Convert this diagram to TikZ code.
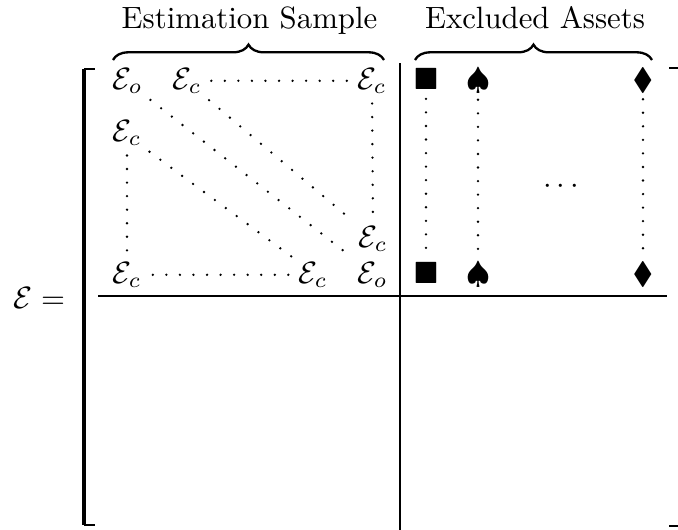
\documentclass[tikz,border=0pt]{standalone}
\usepackage{amssymb}
\usetikzlibrary{decorations.pathreplacing}
\tikzset{
  ent/.style={inner sep=0pt, anchor=base west},
  sym/.style={inner sep=0pt, anchor=base},
  dotline/.style={line width=0.85pt, line cap=round, dash pattern=on 0pt off 4.4pt},
  rule/.style={line width=0.38pt},
  bracefig/.style={line width=0.75pt, decorate, decoration={brace, amplitude=5pt}},
}
\begin{document}
\begin{tikzpicture}[x=0.3247pt, y=-0.3247pt]
\useasboundingbox (0,0) rectangle (678,529);
% titles
\node[sym] (t1) at (249.5,28) {Estimation Sample};
\node[sym] (t2) at (535,28) {Excluded Assets};
\coordinate (b1l) at (113,60);
\coordinate (b1r) at (384,60);
\coordinate (b2l) at (415,60);
\coordinate (b2r) at (652,60);
\draw[bracefig] (b1l) -- (b1r);
\draw[bracefig] (b2l) -- (b2r);
% lhs
\node[ent] (lhs) at (13,308) {$\mathcal{E} =$};
% left bracket
\coordinate (lbt) at (84,69);
\coordinate (lbb) at (84,525);
\coordinate (lbtr) at (95,69);
\coordinate (lbbr) at (95,525);
\draw[line width=1.15pt] (lbt) -- (lbb);
\draw[line width=0.45pt] (lbt) -- (lbtr);
\draw[line width=0.45pt] (lbb) -- (lbbr);
% right bracket ticks
\coordinate (rbt) at (669,68);
\coordinate (rbtr) at (679,68);
\coordinate (rbb) at (669,526);
\coordinate (rbbr) at (679,526);
\draw[line width=0.45pt] (rbt) -- (rbtr);
\draw[line width=0.45pt] (rbb) -- (rbbr);
% separators
\coordinate (vt) at (400,63);
\coordinate (vb) at (400,530);
\coordinate (hl) at (98,296);
\coordinate (hr) at (667,296);
\draw[rule] (vt) -- (vb);
\draw[rule] (hl) -- (hr);
% estimation block
\node[ent] (c11) at (112,89) {$\mathcal{E}_o$};
\node[ent] (c12) at (172,89) {$\mathcal{E}_c$};
\node[ent] (c1n) at (357,89) {$\mathcal{E}_c$};
\node[ent] (c21) at (112,141) {$\mathcal{E}_c$};
\node[ent] (cmn) at (358,247) {$\mathcal{E}_c$};
\node[ent] (cn1) at (112,283) {$\mathcal{E}_c$};
\node[ent] (cn2) at (298,283) {$\mathcal{E}_c$};
\node[ent] (cnn) at (357,283) {$\mathcal{E}_o$};
\draw[dotline, shorten <=3pt, shorten >=1pt] (c12.east) -- (c1n.west);
\draw[dotline, shorten <=3pt, shorten >=3.5pt] (c1n.south) -- (cmn.north);
\draw[dotline, shorten <=3pt, shorten >=3pt] (c21.south) -- (cn1.north);
\draw[dotline, shorten <=3.5pt, shorten >=2.5pt] (cn1.east) -- (cn2.west);
\draw[dotline, shorten <=3pt, shorten >=3pt] (c11.south east) -- (cnn.north west);
\draw[dotline, shorten <=3pt, shorten >=3pt] (c12.south east) -- (cmn.north west);
\draw[dotline, shorten <=3pt, shorten >=2pt] (c21.south east) -- (cn2.north west);
% excluded block
\node[sym] (q1) at (426,89) {$\blacksquare$};
\node[sym] (s1) at (478,89) {$\spadesuit$};
\node[sym] (d1) at (643,89) {$\blacklozenge$};
\node[sym] (qn) at (426,283) {$\blacksquare$};
\node[sym] (sn) at (478,283) {$\spadesuit$};
\node[sym] (dn) at (643,283) {$\blacklozenge$};
\node[sym] (dots) at (561,193) {$\cdots$};
\draw[dotline, shorten <=3pt, shorten >=3pt] (q1.south) -- (qn.north);
\draw[dotline, shorten <=2pt, shorten >=2pt] (s1.south) -- (sn.north);
\draw[dotline, shorten <=2pt, shorten >=2pt] (d1.south) -- (dn.north);
\end{tikzpicture}
\end{document}
